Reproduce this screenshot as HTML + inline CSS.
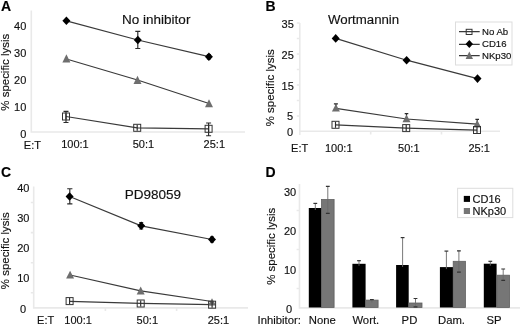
<!DOCTYPE html>
<html><head><meta charset="utf-8">
<style>
html,body{margin:0;padding:0;background:#fff;width:520px;height:326px;overflow:hidden}
svg{display:block;will-change:transform}
text{font-family:"Liberation Sans",sans-serif;fill:#111;stroke:#111;stroke-width:0.15px}
.lbl{font-size:14px;font-weight:bold;fill:#000}
.tk{font-size:11px;text-anchor:end}
.ttl{font-size:13.5px}
.xl{font-size:11px}
.yt{font-size:11.45px;text-anchor:middle}
.ax{stroke:#e9e9e9;stroke-width:1.6;fill:none}
.ln{stroke:#3a3a3a;stroke-width:1.2;fill:none}
.eb{stroke:#2a2a2a;stroke-width:1.15;fill:none}
.ebd{stroke:#6a6a6a;stroke-width:0.9;fill:none}
.ebc{stroke:#333;stroke-width:1.2;fill:none}
.dm{fill:#000}
.tr{fill:#6e6e6e}
.sq{fill:none;stroke:#333;stroke-width:1}
.lg{fill:#fff;stroke:#ddd;stroke-width:1}
</style></head>
<body>
<svg width="520" height="326" viewBox="0 0 520 326">
<!-- ================= PANEL A ================= -->
<text class="lbl" x="1" y="11">A</text>
<path class="ax" d="M31.3 10.5V132H245"/>
<text class="tk" x="26.3" y="30">40</text>
<text class="tk" x="26.3" y="56.8">30</text>
<text class="tk" x="26.3" y="84.3">20</text>
<text class="tk" x="26.3" y="111.3">10</text>
<text class="tk" x="26.3" y="138.4">0</text>
<text class="yt" transform="translate(8.9,72.2) rotate(-90)" x="0" y="0">% specific lysis</text>
<text class="ttl" x="122.1" y="23.8">No inhibitor</text>
<text class="xl" x="23.8" y="149.2">E:T</text>
<text class="xl" x="61.2" y="147.8">100:1</text>
<text class="xl" x="132.7" y="147.8">50:1</text>
<text class="xl" x="203.6" y="147.8">25:1</text>
<!-- lines -->
<polyline class="ln" points="66.4,20.8 137.8,40 208.9,56.7"/>
<polyline class="ln" points="66.4,59 137.5,80 209,103.5"/>
<polyline class="ln" points="66,116.5 137.2,127.8 208.6,128.8"/>
<!-- error bars -->
<path class="eb" d="M137.8 31.4V48.5M135.3 31.4H140.3M135.3 48.5H140.3"/>
<path class="eb" d="M66 111.4V122.5M63.5 111.4H68.5M63.5 122.5H68.5"/>
<path class="eb" d="M208.6 123V135.7M206.1 123H211.1M206.1 135.7H211.1"/>
<path class="eb" d="M208.9 54.5V59M206.9 54.5H210.9M206.9 59H210.9"/>
<!-- markers -->
<g class="dm">
<polygon points="66.4,16.5 70.4,20.8 66.4,25.1 62.4,20.8"/>
<polygon points="137.8,35.7 141.8,40 137.8,44.3 133.8,40"/>
<polygon points="208.9,52.4 212.9,56.7 208.9,61 204.9,56.7"/>
</g>
<g class="tr">
<polygon points="66.4,54.3 70.4,62.4 62.4,62.4"/>
<polygon points="137.5,75.8 141.5,83.9 133.5,83.9"/>
<polygon points="209,99.2 213,107.2 205,107.2"/>
</g>
<rect class="sq" x="62.5" y="113" width="7" height="7"/>
<path class="eb" d="M66.0 113.5V119.5"/>
<rect class="sq" x="133.7" y="124.3" width="7" height="7"/>
<path class="eb" d="M137.2 124.8V130.8"/>
<rect class="sq" x="205.1" y="125.3" width="7" height="7"/>
<path class="eb" d="M208.6 125.8V131.8"/>

<!-- ================= PANEL B ================= -->
<text class="lbl" x="265.5" y="11.3">B</text>
<path class="ax" d="M299.8 23V135M299.8 131.3H500M296.8 23H299.8M296.8 38.5H299.8M296.8 54H299.8M296.8 69.5H299.8M296.8 85H299.8M296.8 100.5H299.8M296.8 116H299.8M370.7 131.3V134.5M441.5 131.3V134.5"/>
<text class="tk" x="293.8" y="28">35</text>
<text class="tk" x="293.8" y="58.9">25</text>
<text class="tk" x="293.8" y="89.8">15</text>
<text class="tk" x="293" y="120.2">5</text>
<text class="tk" x="293" y="135.8">0</text>
<text class="yt" transform="translate(274,87.8) rotate(-90)" x="0" y="0">% specific lysis</text>
<text class="ttl" x="328" y="23.6" style="font-size:13.25px">Wortmannin</text>
<text class="xl" x="291.1" y="152.3">E:T</text>
<text class="xl" x="325" y="152.3">100:1</text>
<text class="xl" x="398.1" y="152.3">50:1</text>
<text class="xl" x="468.5" y="152.3">25:1</text>
<polyline class="ln" points="335.7,38.4 406.6,60.2 477.5,78.6"/>
<polyline class="ln" points="335.9,108.3 406.5,119 477.2,124.1"/>
<polyline class="ln" points="335.5,124.8 406.2,128.1 477,130.2"/>
<path class="eb" d="M335.9 103.8V108M333.9 103.8H337.9"/>
<path class="eb" d="M406.5 113.6V118M404.7 113.6H408.3"/>
<path class="eb" d="M477.2 119.3V123M475.4 119.3H479"/>
<g class="dm">
<polygon points="335.7,34.1 339.7,38.4 335.7,42.7 331.7,38.4"/>
<polygon points="406.6,55.9 410.6,60.2 406.6,64.5 402.6,60.2"/>
<polygon points="477.5,74.3 481.5,78.6 477.5,82.9 473.5,78.6"/>
</g>
<g class="tr">
<polygon points="335.9,104 339.9,111.6 331.9,111.6"/>
<polygon points="406.5,114.4 410.5,122.2 402.5,122.2"/>
<polygon points="477.2,120 481.2,127.5 473.2,127.5"/>
</g>
<rect class="sq" x="332" y="121.3" width="7" height="7"/>
<path class="eb" d="M335.5 121.8V127.8"/>
<rect class="sq" x="402.7" y="124.6" width="7" height="7"/>
<path class="eb" d="M406.2 125.1V131.1"/>
<rect class="sq" x="473.5" y="126.5" width="7" height="7"/>
<path class="eb" d="M477.0 127.0V133.0"/>
<!-- legend B -->
<rect class="lg" x="455.5" y="22" width="56.5" height="43"/>
<path class="ln" d="M459 31.6H479.7M459 44.3H479.7M459 55.7H479.7"/>
<rect class="sq" x="466.2" y="29.3" width="5.8" height="5.2"/>
<polygon class="dm" points="469.3,40 473,44 469.3,48 465.6,44"/>
<polygon class="tr" points="469.3,51.5 473,59 465.6,59"/>
<text x="482" y="34.6" style="font-size:9.6px">No Ab</text>
<text x="482" y="47.2" style="font-size:9.6px">CD16</text>
<text x="482" y="59.2" style="font-size:9.6px">NKp30</text>

<!-- ================= PANEL C ================= -->
<text class="lbl" x="1" y="176.6">C</text>
<path class="ax" d="M33.7 186.4V307.9H248M30.8 202.5H33.7M30.8 232.6H33.7M30.8 262.7H33.7M30.8 292.8H33.7M105.4 307.9V311M176.6 307.9V311"/>
<text class="tk" x="29.5" y="191.9">40</text>
<text class="tk" x="29.5" y="221.9">30</text>
<text class="tk" x="29.5" y="252.3">20</text>
<text class="tk" x="29.5" y="282.2">10</text>
<text class="tk" x="26.2" y="312.5">0</text>
<text class="yt" transform="translate(8.7,250.7) rotate(-90)" x="0" y="0">% specific lysis</text>
<text class="ttl" x="124.8" y="198.9">PD98059</text>
<text class="xl" x="37.1" y="324.4">E:T</text>
<text class="xl" x="64.3" y="323.9">100:1</text>
<text class="xl" x="136.6" y="323.9">50:1</text>
<text class="xl" x="207.7" y="323.7">25:1</text>
<polyline class="ln" points="69.6,196.5 141.2,225.8 212,239.5"/>
<polyline class="ln" points="70.1,275 140.7,290.8 212,301.5"/>
<polyline class="ln" points="69.6,301.3 140.7,303.3 212.1,304.7"/>
<path class="eb" d="M69.8 188.7V203.8M67.2 188.7H72.4M67.2 203.8H72.4"/>
<path class="eb" d="M141.2 222.5V229M139.2 222.5H143.2M139.2 229H143.2"/>
<path class="eb" d="M212 237V242M210 237H214M210 242H214"/>
<g class="dm">
<polygon points="69.6,192.2 73.6,196.5 69.6,200.8 65.6,196.5"/>
<polygon points="141.2,221.5 145.2,225.8 141.2,230.1 137.2,225.8"/>
<polygon points="212,235.2 216,239.5 212,243.8 208,239.5"/>
</g>
<g class="tr">
<polygon points="70.1,270.7 74.1,278.4 66.1,278.4"/>
<polygon points="140.7,286.6 144.7,294.5 136.7,294.5"/>
<polygon points="212,298.3 216,305.5 208,305.5"/>
</g>
<rect class="sq" x="66.1" y="297.6" width="7" height="7"/>
<path class="eb" d="M69.6 298.1V304.1"/>
<rect class="sq" x="137.2" y="300" width="7" height="7"/>
<path class="eb" d="M140.7 300.5V306.5"/>
<rect class="sq" x="208.6" y="301.2" width="7" height="7"/>
<path class="eb" d="M212.1 301.7V307.7"/>

<!-- ================= PANEL D ================= -->
<text class="lbl" x="265.5" y="177.2">D</text>
<path class="ax" d="M299.5 184V307.9H520M296.6 210.5H299.5M296.6 249.5H299.5M296.6 288.5H299.5"/>
<text class="tk" x="296.2" y="195.5">30</text>
<text class="tk" x="296.2" y="234.5">20</text>
<text class="tk" x="296.2" y="273.6">10</text>
<text class="tk" x="292.2" y="312.5">0</text>
<text class="yt" transform="translate(274.7,246.3) rotate(-90)" x="0" y="0">% specific lysis</text>
<text class="xl" x="257.5" y="324.3" style="font-size:11.3px">Inhibitor:</text>
<text class="xl" x="308.8" y="324.3" style="font-size:11.3px">None</text>
<text class="xl" x="352.4" y="324.3" style="font-size:11.3px">Wort.</text>
<text class="xl" x="401.6" y="324.3" style="font-size:11.3px">PD</text>
<text class="xl" x="438" y="324.3" style="font-size:11.3px">Dam.</text>
<text class="xl" x="486.5" y="324.3" style="font-size:11.3px">SP</text>
<!-- bars -->
<g fill="#000">
<rect x="308.8" y="208" width="12.7" height="99.5"/>
<rect x="352.4" y="263.8" width="13.2" height="43.7"/>
<rect x="396.1" y="265" width="12.6" height="42.5"/>
<rect x="439.9" y="267.1" width="13.3" height="40.4"/>
<rect x="483.8" y="263.7" width="12.8" height="43.8"/>
</g>
<g fill="#767676" stroke="#606060" stroke-width="0.8">
<rect x="321.5" y="199.5" width="12.6" height="108"/>
<rect x="365.6" y="300.1" width="12.5" height="7.4"/>
<rect x="408.7" y="303" width="13.3" height="4.5"/>
<rect x="453.2" y="261.3" width="12.2" height="46.2"/>
<rect x="496.8" y="275.2" width="12.8" height="32.3"/>
</g>
<!-- error bars D -->
<path class="ebd" d="M315.3 203.4V210"/>
<path class="ebc" d="M313.4 203.4H317.2"/>
<path class="ebd" d="M327.8 186.3V213.3"/>
<path class="ebc" d="M325.9 186.3H329.7M325.9 213.3H329.7"/>
<path class="ebd" d="M359 260.7V265.8"/>
<path class="ebc" d="M357.1 260.7H360.9"/>
<path class="ebd" d="M371.9 299.6V302.5"/>
<path class="ebc" d="M370.0 299.6H373.8"/>
<path class="ebd" d="M402.6 237.6V267"/>
<path class="ebc" d="M400.7 237.6H404.5"/>
<path class="ebd" d="M415.5 298.5V306.8"/>
<path class="ebc" d="M413.6 298.5H417.4M413.6 306.8H417.4"/>
<path class="ebd" d="M446.4 251.1V269.1"/>
<path class="ebc" d="M444.5 251.1H448.3"/>
<path class="ebd" d="M458.9 250.8V272.2"/>
<path class="ebc" d="M457.0 250.8H460.8M457.0 272.2H460.8"/>
<path class="ebd" d="M490.3 261.3V265.7"/>
<path class="ebc" d="M488.4 261.3H492.2"/>
<path class="ebd" d="M503.2 269V280.4"/>
<path class="ebc" d="M501.3 269H505.1M501.3 280.4H505.1"/>
<!-- legend D -->
<rect class="lg" x="457.6" y="188.3" width="55.2" height="29.3"/>
<rect x="463.8" y="195.9" width="6.2" height="6" fill="#000"/>
<rect x="463.8" y="208" width="6.2" height="6" fill="#767676"/>
<text x="472.6" y="202.8" style="font-size:11px">CD16</text>
<text x="472.6" y="214.6" style="font-size:11px">NKp30</text>
</svg>
</body></html>
